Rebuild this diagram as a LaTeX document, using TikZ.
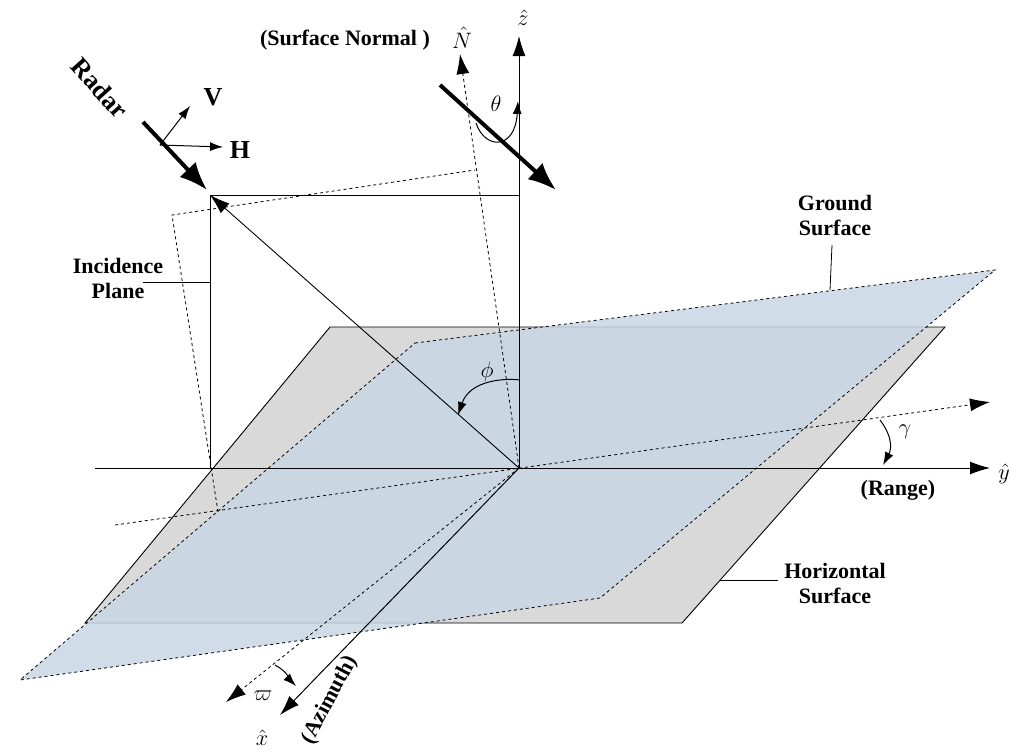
\documentclass[tikz,border=0pt]{standalone}
\usepackage{fontspec}
\setmainfont{Liberation Serif}
\usetikzlibrary{arrows.meta}
\definecolor{hgray}{RGB}{217,217,217}
\definecolor{gblue}{RGB}{200,214,228}
\begin{document}
\begin{tikzpicture}[x=1pt,y=-1pt,
 lbl/.style={font=\bfseries\fontsize{22}{25}\selectfont,align=center},
 big/.style={font=\bfseries\fontsize{26}{28}\selectfont},
 mth/.style={font=\Large,scale=1.55},
 ax/.style={line width=1pt,-{Latex[length=20pt,width=13pt]}},
 dax/.style={dashed,line width=0.8pt,-{Latex[length=20pt,width=13pt]}},
 thick arr/.style={line width=4pt,-{Latex[length=28pt,width=22pt]}},
 small arr/.style={line width=1pt,-{Latex[length=13pt,width=9pt]}}]
\useasboundingbox (0,0) rectangle (1024,755);
% horizontal surface
\fill[hgray] (330,327) -- (945,327) -- (682,623) -- (85,623) -- cycle;
\draw[line width=0.9pt] (330,327) -- (945,327) -- (682,623) -- (85,623) -- cycle;
% ground surface
\fill[gblue,opacity=0.85] (415,343) -- (995,270) -- (600,598) -- (20,680) -- cycle;
\draw[dashed,line width=0.8pt] (415,343) -- (995,270) -- (600,598) -- (20,680) -- cycle;
\coordinate (O) at (519,468);
% axes
\draw[ax] (95,468) -- (990,468);
\node[mth] (y) at (1004,474) {$\hat{y}$};
\draw[ax] (O) -- (519,36);
\node[mth] (z) at (523,18) {$\hat{z}$};
\draw[ax] (O) -- (280,715);
\node[mth] (x) at (262,738) {$\hat{x}$};
\draw[dax] (115,525) -- (990,402);
\draw[dax] (O) -- (226,702);
\draw[dax] (O) -- (460,54);
\node[mth] (N) at (462,38) {$\hat{N}$};
% radar geometry
\coordinate (R) at (210,195);
\draw[line width=0.9pt] (R) -- (519,195);
\draw[line width=0.9pt] (R) -- (210,468);
\draw[line width=0.9pt,-{Latex[length=20pt,width=13pt]}] (O) -- (R);
% incidence plane
\draw[dashed,line width=0.8pt] (218,512) -- (172,215) -- (475,170);
\draw[line width=0.8pt] (143,282) -- (210,282);
\node[lbl] at (118,278) {Incidence\\Plane};
% radar arrows
\draw[thick arr] (143,122) -- (207,190);
\node[big,rotate=-48] at (100,88) {Radar};
\coordinate (P) at (160,145);
\draw[small arr] (P) -- (190,106);
\draw[small arr] (P) -- (223,147);
\node[big] at (213,97) {V};
\node[big] at (240,150) {H};
\draw[thick arr] (440,85) -- (556,190);
% angles
\draw[small arr] (476,123) .. controls (485,150) and (515,150) .. (518,101);
\node[mth] at (496,104) {$\theta$};
\draw[small arr] (520,380) .. controls (505,378) and (470,380) .. (458,415);
\node[mth] at (487,372) {$\phi$};
\draw[small arr] (880,420) .. controls (895,440) and (890,452) .. (883,465);
\node[mth] at (905,432) {$\gamma$};
\draw[small arr] (275,665) .. controls (288,672) and (290,680) .. (296,686);
\node[mth] at (263,696) {$\varpi$};
% labels
\node[lbl] at (345,40) {(Surface Normal )};
\node[lbl] at (835,215) {Ground\\Surface};
\draw[line width=0.8pt] (830,290) -- (832,245);
\node[lbl] at (835,583) {Horizontal\\Surface};
\draw[line width=0.8pt] (720,580) -- (778,580);
\node[lbl] at (898,490) {(Range)};
\node[lbl,rotate=62] at (330,700) {(Azimuth)};
\end{tikzpicture}
\end{document}
